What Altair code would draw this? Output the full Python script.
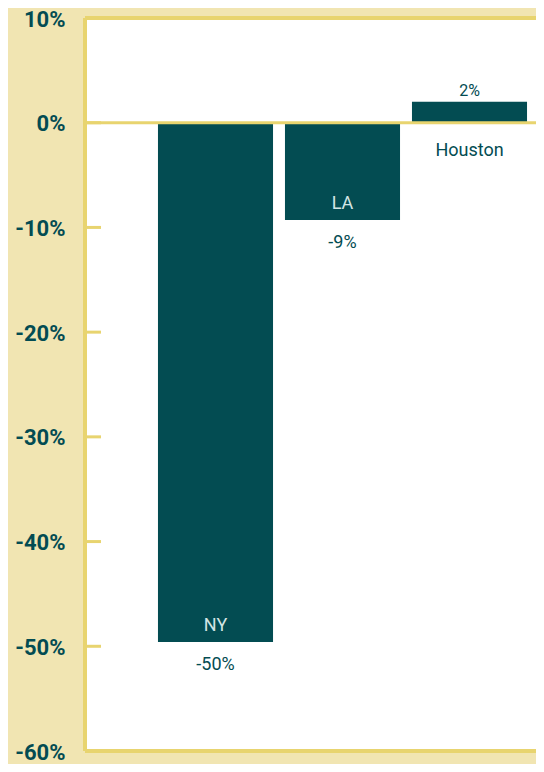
import altair as alt
import pandas as pd

cities = ["NY", "LA", "Houston"]
changes = [-49.6, -9.3, 2.0]
value_labels = ["-50%", "-9%", "2%"]
tick_values = [10, 0, -10, -20, -30, -40, -50, -60]

TEAL = "#034c52"
BEIGE = "#f1e5b2"
YELLOW = "#e8d46f"
LIGHT = "#d3e5e4"
FONT = "Roboto, Lato, sans-serif"

df = pd.DataFrame({"city": cities, "change": changes, "label": value_labels})
df["zero"] = 0.0
ticks_df = pd.DataFrame({"t": tick_values})
one = pd.DataFrame({"a": [0]})

W, H = 451, 733
xscale = alt.Scale(domain=cities, range=[67, 448], paddingInner=0.094, paddingOuter=0.047)
yscale = alt.Scale(domain=[-60, 10], nice=False, zero=False)
yaxis = alt.Axis(values=tick_values, labelExpr="datum.value + '%'", title=None,
                 domain=False, ticks=False, grid=False, labelPadding=20,
                 labelFont=FONT, labelFontSize=22, labelFontWeight="bold",
                 labelColor=TEAL, labelOffset=1)

x = alt.X("city:N", scale=xscale, axis=None)
base = alt.Chart(df)

bars = base.mark_bar(color=TEAL).encode(
    x=x,
    y=alt.Y("change:Q", scale=yscale, axis=yaxis),
    y2="zero:Q",
)

name_in = base.transform_filter("datum.change < 0").mark_text(
    font=FONT, fontSize=18, color=LIGHT, baseline="alphabetic", dy=-11
).encode(x=x, y=alt.Y("change:Q", scale=yscale, axis=yaxis), text="city:N")

name_out = base.transform_filter("datum.change >= 0").mark_text(
    font=FONT, fontSize=18, color=TEAL, baseline="alphabetic", dy=33
).encode(x=x, y=alt.Y("zero:Q", scale=yscale, axis=yaxis), text="city:N")

val_neg = base.transform_filter("datum.change < 0").mark_text(
    font=FONT, fontSize=18, color=TEAL, baseline="alphabetic", dy=28
).encode(x=x, y=alt.Y("change:Q", scale=yscale, axis=yaxis), text="label:N")

val_pos = base.transform_filter("datum.change >= 0").mark_text(
    font=FONT, fontSize=16, color=TEAL, baseline="alphabetic", dy=-6
).encode(x=x, y=alt.Y("change:Q", scale=yscale, axis=yaxis), text="label:N")

ticks = alt.Chart(ticks_df).mark_rule(color=YELLOW, strokeWidth=3).encode(
    y=alt.Y("t:Q", scale=yscale, axis=yaxis), x=alt.value(0), x2=alt.value(16)
)

zero_line = alt.Chart(ticks_df).transform_filter("datum.t == 0").mark_rule(
    color=YELLOW, strokeWidth=3
).encode(y=alt.Y("t:Q", scale=yscale, axis=yaxis), x=alt.value(0), x2=alt.value(W))

top_border = alt.Chart(one).mark_rule(color=YELLOW, strokeWidth=4).encode(
    y=alt.value(0), x=alt.value(0), x2=alt.value(W))
bottom_border = alt.Chart(one).mark_rule(color=YELLOW, strokeWidth=4).encode(
    y=alt.value(H), x=alt.value(0), x2=alt.value(W))
left_border = alt.Chart(one).mark_rule(color=YELLOW, strokeWidth=4).encode(
    x=alt.value(0), y=alt.value(0), y2=alt.value(H))

chart = alt.layer(
    bars, ticks, zero_line, top_border, bottom_border, left_border,
    name_in, name_out, val_neg, val_pos
).properties(
    width=W, height=H,
    autosize=alt.AutoSizeParams(type="none"),
    padding={"left": 77, "top": 10, "right": 0, "bottom": 13},
    background=BEIGE,
).configure_view(fill="white", strokeWidth=0)

chart.save("out.html", embed_options={"renderer": "svg", "actions": False})
